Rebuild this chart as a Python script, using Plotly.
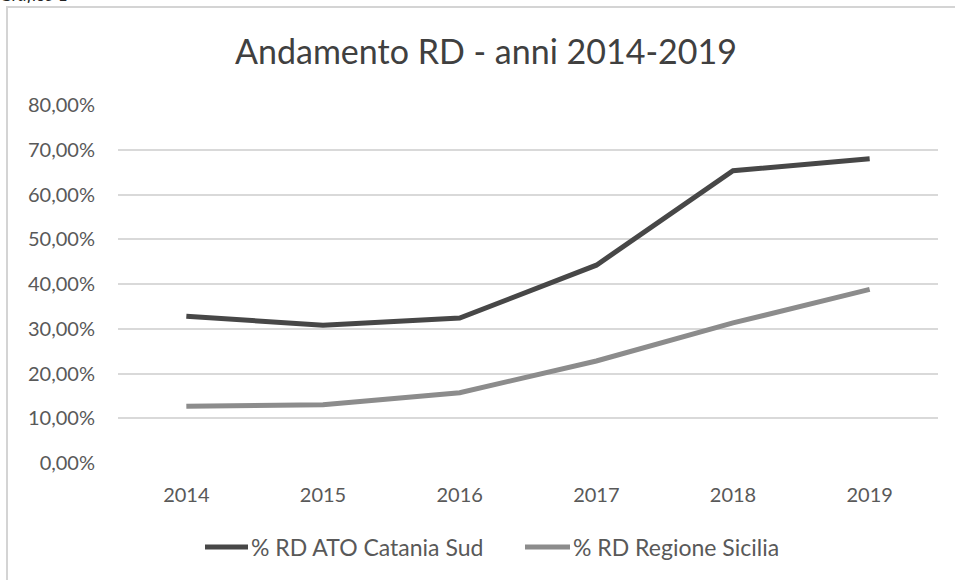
import plotly.graph_objects as go

years = ["2014", "2015", "2016", "2017", "2018", "2019"]
ato_catania_sud = [0.328, 0.308, 0.324, 0.442, 0.653, 0.680]
regione_sicilia = [0.127, 0.130, 0.157, 0.228, 0.313, 0.388]
y_ticks = [0, 0.1, 0.2, 0.3, 0.4, 0.5, 0.6, 0.7, 0.8]
series_names = ["% RD ATO Catania Sud", "% RD Regione Sicilia"]
series_colors = ["#474747", "#8c8c8c"]

FONT = "Lato"
TXT = "#595959"

fig = go.Figure()
for name, vals, col in zip(series_names, [ato_catania_sud, regione_sicilia], series_colors):
    fig.add_trace(go.Scatter(x=years, y=vals, mode="lines", name=name,
                             line=dict(color=col, width=5), showlegend=False))

W, H = 955, 580
L, R, T, B = 118, 17, 105, 117
pw, ph = W - L - R, H - T - B

def px(x):
    return (x - L) / pw

def py(y):
    return (H - B - y) / ph

# outer chart border
fig.add_shape(type="rect", xref="paper", yref="paper",
              x0=px(7), x1=px(990), y0=py(600), y1=py(7),
              line=dict(color="#d4d4d4", width=2), fillcolor="rgba(0,0,0,0)",
              layer="below")

# custom legend
legend_items = [(205, 248), (525, 570)]
for (x0, x1), name, col in zip(legend_items, series_names, series_colors):
    fig.add_shape(type="line", xref="paper", yref="paper",
                  x0=px(x0), x1=px(x1), y0=py(547), y1=py(547),
                  line=dict(color=col, width=5))
    fig.add_annotation(text=name, xref="paper", yref="paper",
                       x=px(x1 + 1), y=py(547), xanchor="left", yanchor="middle",
                       showarrow=False, font=dict(family=FONT, size=23, color=TXT))

fig.add_annotation(text="<i>Grafico 1</i>", xref="paper", yref="paper",
                   x=px(-2), y=py(-6), xanchor="left", yanchor="middle",
                   showarrow=False, font=dict(family=FONT, size=18, color="#222"))

fig.update_layout(
    width=W, height=H,
    margin=dict(l=L, r=R, t=T, b=B),
    paper_bgcolor="white", plot_bgcolor="white",
    separators=",.",
    title=dict(text="Andamento RD - anni 2014-2019", x=486 / W, xanchor="center",
               y=1 - 52 / H, yanchor="middle",
               font=dict(family=FONT, size=34, color="#404040")),
    font=dict(family=FONT, color=TXT),
    showlegend=False,
    xaxis=dict(type="category", range=[-0.5, 5.5], showgrid=False, zeroline=False,
               showline=False, ticks="", tickfont=dict(size=20, color=TXT),
               ticklabelstandoff=18, automargin=False),
    yaxis=dict(range=[0, 0.8], tickvals=y_ticks, tickformat=".2%",
               showgrid=True, gridcolor="#d9d9d9", gridwidth=2, zeroline=False,
               showline=False, ticks="", tickfont=dict(size=20, color=TXT),
               ticklabelstandoff=22, automargin=False),
)

fig.write_html("out.html", config={"displayModeBar": False},
               post_script="document.body.style.margin='0px';")
